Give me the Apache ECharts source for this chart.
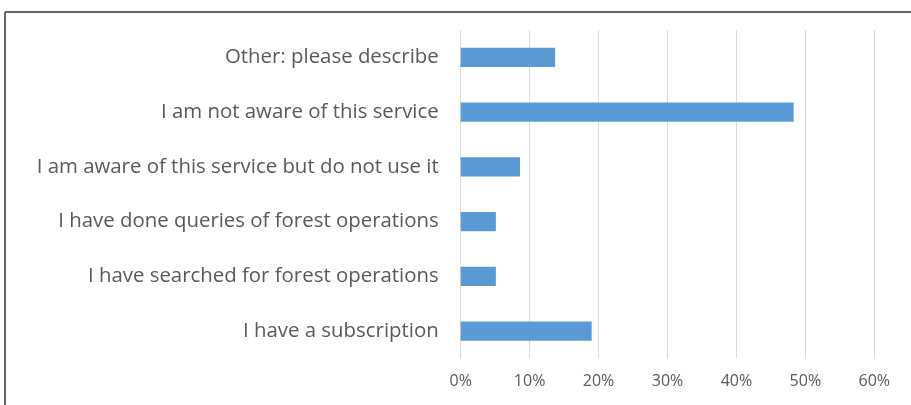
<!DOCTYPE html>
<html><head><meta charset="utf-8">
<script src="https://cdn.jsdelivr.net/npm/echarts@6/dist/echarts.min.js"></script>
<style>html,body{margin:0;padding:0;background:#fff}#c{width:911px;height:405px}</style>
</head><body><div id="c"></div>
<script>
var categories = [
  'I have a subscription',
  'I have searched for forest operations',
  'I have done queries of forest operations',
  'I am aware of this service but do not use it',
  'I am not aware of this service',
  'Other: please describe'
];
var values = [19.0, 5.1, 5.1, 8.6, 48.3, 13.7];
var tickMax = 60;
var tickStep = 10;

var chart = echarts.init(document.getElementById('c'), null, {renderer: 'canvas'});
chart.setOption({
  animation: false,
  backgroundColor: '#fff',
  grid: {left: 460.7, right: 36.7, top: 30, bottom: 46.5, containLabel: false},
  xAxis: {
    type: 'value', min: 0, max: tickMax, interval: tickStep,
    axisLine: {show: false}, axisTick: {show: false},
    splitLine: {lineStyle: {color: '#d9d9d9', width: 1}},
    axisLabel: {formatter: '{value}%', color: '#595959', fontFamily: 'Open Sans', fontSize: 16, margin: 15}
  },
  yAxis: {
    type: 'category', data: categories,
    axisLine: {show: false}, axisTick: {show: false},
    axisLabel: {color: '#595959', fontFamily: 'Open Sans', fontSize: 20.4, margin: 22}
  },
  series: [{
    type: 'bar', data: values, barWidth: '35%',
    itemStyle: {color: '#5b9bd5'}
  }],
  graphic: [
    {type: 'line', shape: {x1: 5, y1: 12, x2: 911, y2: 12}, style: {stroke: '#666', lineWidth: 2}},
    {type: 'line', shape: {x1: 5, y1: 12, x2: 5, y2: 405}, style: {stroke: '#666', lineWidth: 2}}
  ]
});
</script></body></html>
